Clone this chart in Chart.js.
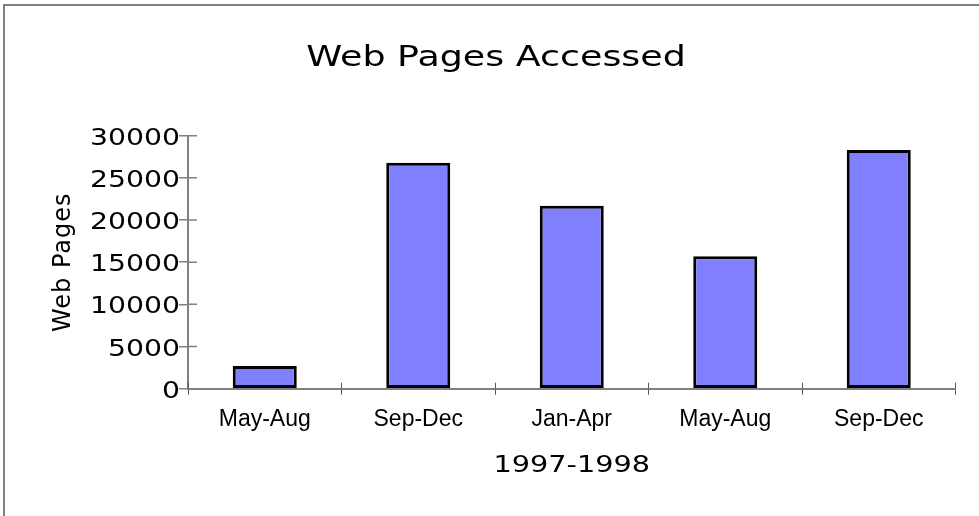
<!DOCTYPE html>
<html><head><meta charset="utf-8">
<script src="https://cdn.jsdelivr.net/npm/chart.js@4"></script>
<style>
html,body{margin:0;padding:0;background:#fff;}
#wrap{position:relative;width:979px;height:516px;overflow:hidden;}
#frame{position:absolute;left:3px;top:4px;right:-10px;bottom:-10px;border-top:2px solid #808080;border-left:2px solid #808080;pointer-events:none;}
canvas{display:block;}
</style></head><body>
<div id="wrap"><canvas id="c" width="979" height="516"></canvas><div id="frame"></div></div>
<script>
const categories = ['May-Aug', 'Sep-Dec', 'Jan-Apr', 'May-Aug', 'Sep-Dec'];
const webPages = [2700, 26800, 21700, 15700, 28300];
const yTicks = [0, 5000, 10000, 15000, 20000, 25000, 30000];
const chartTitle = 'Web Pages Accessed';
const xTitle = '1997-1998';
const yTitle = 'Web Pages';

// draw text of a chart element with glyphs stretched horizontally
function withStretch(obj, name, sx) {
  const orig = obj[name];
  if (!orig || orig.__st) return;
  const f = function (...a) {
    const c = this.ctx;
    const ft = CanvasRenderingContext2D.prototype.fillText;
    c.fillText = function (t, x, y) {
      this.save();
      this.scale(sx, 1);
      ft.call(this, t, x / sx, y);
      this.restore();
    };
    try { return orig.apply(this, a); } finally { delete c.fillText; }
  };
  f.__st = true;
  obj[name] = f;
}
function withSpacing(obj, name, sp) {
  const orig = obj[name];
  if (!orig || orig.__sp) return;
  const f = function (...a) {
    const c = this.ctx;
    const prev = c.letterSpacing;
    c.letterSpacing = sp;
    try { return orig.apply(this, a); } finally { c.letterSpacing = prev || '0px'; }
  };
  f.__sp = true;
  obj[name] = f;
}
const textStyle = {
  id: 'textStyle',
  afterLayout(chart) {
    withStretch(chart.scales.y, 'drawLabels', 1.23);
    withSpacing(chart.scales.y, 'drawTitle', '1px');
    withStretch(chart.scales.x, 'drawTitle', 1.25);
    if (chart.titleBlock) withStretch(chart.titleBlock, 'draw', 1.255);
  }
};
const innerTicks = {
  id: 'innerTicks',
  afterDraw(chart) {
    const {ctx, scales: {x, y}} = chart;
    ctx.save();
    ctx.strokeStyle = '#808080';
    ctx.lineWidth = 1.5;
    ctx.beginPath();
    y.ticks.forEach(t => {
      const py = y.getPixelForValue(t.value);
      ctx.moveTo(y.right, py);
      ctx.lineTo(y.right + 9, py);
    });
    ctx.stroke();
    ctx.strokeStyle = '#555';
    ctx.lineWidth = 1;
    ctx.beginPath();
    for (let i = 0; i <= categories.length; i++) {
      const px = Math.floor(x.getPixelForValue(i - 0.5)) + 0.5;
      ctx.moveTo(px, x.top);
      ctx.lineTo(px, x.top - 6);
    }
    ctx.stroke();
    ctx.restore();
  }
};

Chart.defaults.font.family = 'DejaVu Sans';
Chart.defaults.color = '#000';

new Chart(document.getElementById('c'), {
  type: 'bar',
  data: {
    labels: categories,
    datasets: [{
      data: webPages,
      backgroundColor: '#8080FF',
      borderColor: '#000',
      borderWidth: 3,
      borderSkipped: false,
      barPercentage: 0.417,
      categoryPercentage: 1
    }]
  },
  options: {
    responsive: false,
    animation: false,
    layout: {padding: {left: 36.5, right: 23.5, top: 0, bottom: 0}},
    plugins: {
      legend: {display: false},
      tooltip: {enabled: false},
      title: {
        display: true,
        text: chartTitle,
        color: '#000',
        font: {family: 'DejaVu Sans', size: 29, weight: 'normal'},
        padding: {top: 40.6, bottom: 60.3}
      }
    },
    scales: {
      x: {
        offset: true,
        afterFit(s) { s.height = 516 - 388.7; },
        border: {display: true, color: '#808080', width: 2},
        grid: {display: true, drawOnChartArea: false, drawTicks: true, tickLength: 6, color: '#555', lineWidth: 1, offset: true},
        ticks: {font: {family: 'Liberation Sans', size: 23}, color: '#000', padding: 11.5, maxRotation: 0, autoSkip: false},
        title: {display: true, text: xTitle, font: {family: 'DejaVu Sans', size: 23}, color: '#000', padding: {top: 0, bottom: 35.7}}
      },
      y: {
        min: 0,
        max: 30000,
        afterFit(s) { s.width = 188 - 36.5; },
        afterBuildTicks(s) { s.ticks = yTicks.map(v => ({value: v})); },
        border: {display: true, color: '#808080', width: 2},
        grid: {display: true, drawOnChartArea: false, drawTicks: true, tickLength: 9, color: '#808080', lineWidth: 1.5},
        ticks: {font: {family: 'DejaVu Sans', size: 23}, color: '#000', padding: -1, labelOffset: 3, callback: v => String(v)},
        title: {display: true, text: yTitle, font: {family: 'DejaVu Sans', size: 24}, color: '#000', padding: {top: 13.1, bottom: 0}}
      }
    }
  },
  plugins: [textStyle, innerTicks]
});
</script>
</body></html>
